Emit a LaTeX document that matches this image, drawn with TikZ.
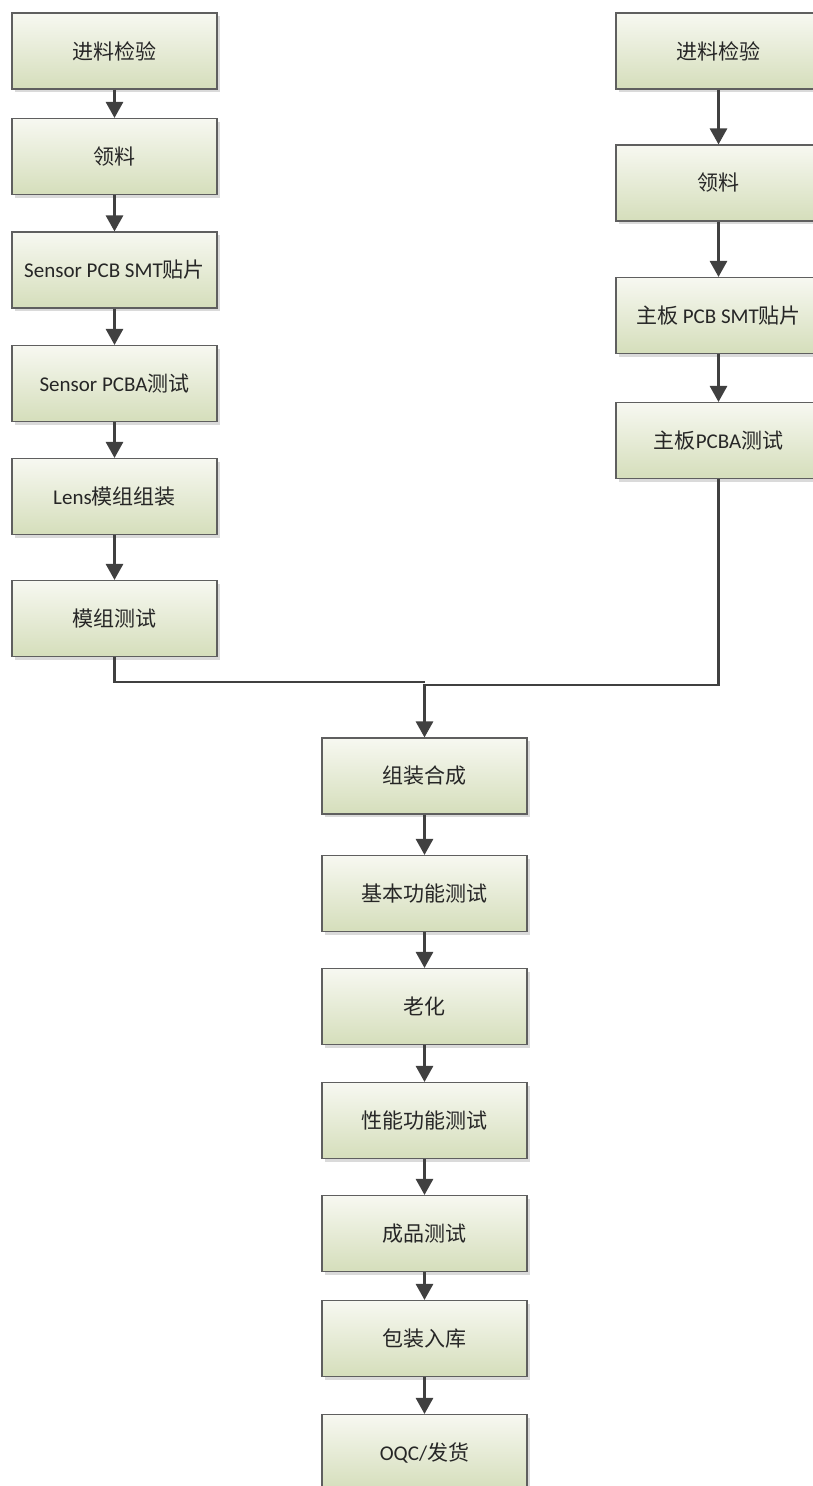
\documentclass[tikz,border=0pt]{standalone}
\usepackage{fontspec}
\setmainfont{Carlito}
\newfontfamily\cjk{Noto Sans CJK SC}
\usetikzlibrary{arrows.meta,shadows}
\definecolor{boxtop}{HTML}{F7F8F1}
\definecolor{boxbot}{HTML}{D5DEBB}
\definecolor{boxline}{HTML}{5F5F5F}
\definecolor{conncol}{HTML}{404040}
\definecolor{txtcol}{HTML}{262626}
\definecolor{shadowcol}{HTML}{DADADA}
\tikzset{
  procbox/.style={draw=boxline, line width=1.1pt, top color=boxtop, bottom color=boxbot,
    minimum width=205pt, minimum height=76pt, inner sep=0pt, text=txtcol,
    font=\fontsize{21pt}{25pt}\selectfont,
    drop shadow={shadow xshift=3pt, shadow yshift=-3pt, fill=shadowcol, opacity=1}},
  conn/.style={draw=conncol, line width=2.8pt},
  arr/.style={conn, -{Triangle[length=16pt,width=17pt]}},
}
\begin{document}
\begin{tikzpicture}[x=1pt,y=-1pt]
\useasboundingbox (0,0) rectangle (813,1486);
\clip (0,0) rectangle (813,1486);
% left column
\node[procbox] (b1) at (114.5,51) {\cjk 进料检验};
\node[procbox] (b2) at (114.5,156.5) {\cjk 领料};
\node[procbox] (b3) at (114.5,270) {Sensor PCB SMT{\cjk 贴片}};
\node[procbox] (b4) at (114.5,383.5) {Sensor PCBA{\cjk 测试}};
\node[procbox] (b5) at (114.5,496.5) {Lens{\cjk 模组组装}};
\node[procbox] (b6) at (114.5,618.5) {\cjk 模组测试};
% right column
\node[procbox] (r1) at (718.5,51) {\cjk 进料检验};
\node[procbox] (r2) at (718.5,183) {\cjk 领料};
\node[procbox] (r3) at (718.5,315.5) {{\cjk 主板} PCB SMT{\cjk 贴片}};
\node[procbox] (r4) at (718.5,440.5) {{\cjk 主板}PCBA{\cjk 测试}};
% center column
\node[procbox] (c1) at (424.5,776) {\cjk 组装合成};
\node[procbox] (c2) at (424.5,893.5) {\cjk 基本功能测试};
\node[procbox] (c3) at (424.5,1006.5) {\cjk 老化};
\node[procbox] (c4) at (424.5,1120.5) {\cjk 性能功能测试};
\node[procbox] (c5) at (424.5,1233.5) {\cjk 成品测试};
\node[procbox] (c6) at (424.5,1338.5) {\cjk 包装入库};
\node[procbox] (c7) at (424.5,1452.5) {OQC/{\cjk 发货}};
% connectors
\draw[arr] (b1) -- (b2);
\draw[arr] (b2) -- (b3);
\draw[arr] (b3) -- (b4);
\draw[arr] (b4) -- (b5);
\draw[arr] (b5) -- (b6);
\draw[arr] (r1) -- (r2);
\draw[arr] (r2) -- (r3);
\draw[arr] (r3) -- (r4);
\coordinate (jl) at (424.5,682);
\coordinate (jr) at (424.5,685);
\draw[conn] (b6.south) |- (jl);
\draw[arr] (r4.south) |- (jr) -- (c1.north);
\draw[arr] (c1) -- (c2);
\draw[arr] (c2) -- (c3);
\draw[arr] (c3) -- (c4);
\draw[arr] (c4) -- (c5);
\draw[arr] (c5) -- (c6);
\draw[arr] (c6) -- (c7);
\end{tikzpicture}
\end{document}
